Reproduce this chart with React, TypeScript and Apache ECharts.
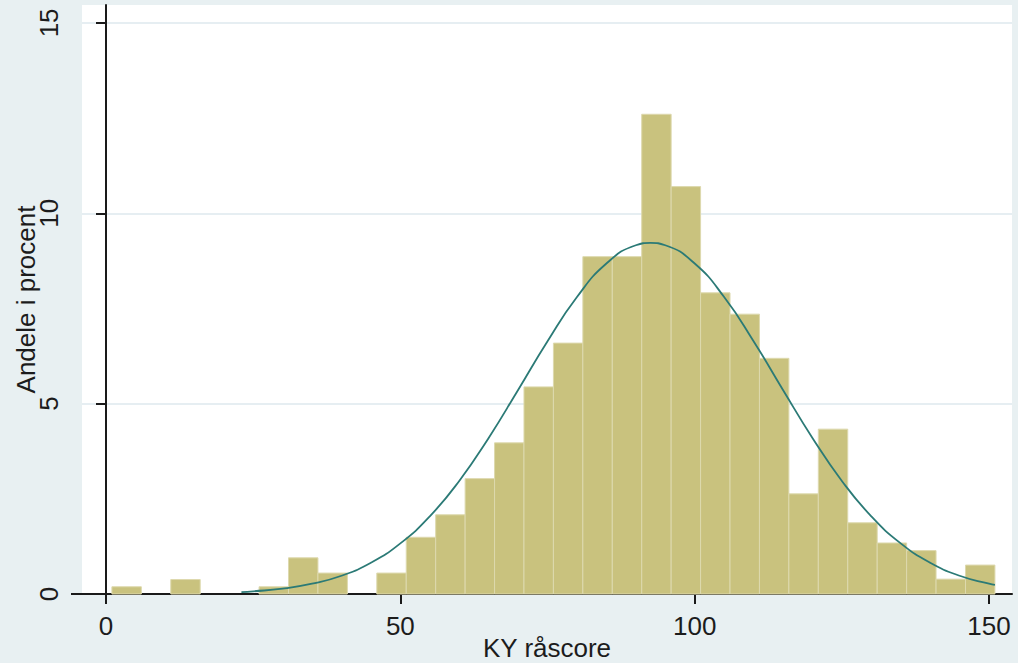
import React, { useEffect, useRef } from "react";
import * as echarts from "echarts";

// Histogram bins (lower edge of each 5-point bin) and their heights in percent
const binLeft = [1, 6, 11, 16, 21, 26, 31, 36, 41, 46, 51, 56, 61, 66, 71, 76, 81, 86, 91, 96, 101, 106, 111, 116, 121, 126, 131, 136, 141, 146];
const binWidth = 5;
const percent = [0.19, 0, 0.38, 0, 0, 0.19, 0.95, 0.55, 0, 0.55, 1.49, 2.08, 3.03, 3.97, 5.44, 6.59, 8.86, 8.86, 12.6, 10.7, 7.91, 7.35, 6.19, 2.63, 4.33, 1.87, 1.34, 1.14, 0.39, 0.76];

// Overlaid normal curve
const curveX = [23, 25, 30, 35, 40, 45, 50, 55, 60, 65, 70, 75, 80, 85, 90, 92.5, 95, 100, 105, 110, 115, 120, 125, 130, 135, 140, 145, 150, 151];
const curveY = [0.05, 0.07, 0.14, 0.27, 0.48, 0.82, 1.33, 2.04, 2.97, 4.1, 5.36, 6.64, 7.8, 8.68, 9.16, 9.22, 9.16, 8.68, 7.8, 6.64, 5.36, 4.1, 2.97, 2.04, 1.33, 0.82, 0.48, 0.27, 0.24];

const xTicks = [0, 50, 100, 150];
const yTicks = [0, 5, 10, 15];

const FONT = "'Liberation Sans', Arial, sans-serif";
const TXT = "#1c1c1c";

export default function App() {
  const ref = useRef<HTMLDivElement>(null);
  useEffect(() => {
    if (!ref.current) return;
    const chart = echarts.init(ref.current, null, { renderer: "svg" });
    const barData = binLeft
      .map((l, i) => [l, l + binWidth, percent[i]])
      .filter((d) => d[2] > 0);
    chart.setOption({
      animation: false,
      backgroundColor: "#E8F0F2",
      textStyle: { fontFamily: FONT },
      grid: {
        left: 82,
        right: 6,
        top: 5,
        bottom: 69,
        containLabel: false,
        outerBoundsMode: "none",
        show: true,
        backgroundColor: "#ffffff",
        borderWidth: 0,
      },
      xAxis: {
        type: "value",
        min: -4.08,
        max: 153.9,
        name: "KY råscore",
        nameLocation: "middle",
        nameGap: 41,
        nameMoveOverlap: false,
        nameTextStyle: { fontSize: 26, color: TXT, fontFamily: FONT },
        axisLine: { show: true, lineStyle: { color: "#1a1a1a", width: 2 } },
        axisTick: { show: true, length: 10, customValues: xTicks, lineStyle: { color: "#1a1a1a", width: 2 } },
        axisLabel: { customValues: xTicks, fontSize: 26, color: TXT, margin: 19, fontFamily: FONT },
        splitLine: { show: false },
      },
      yAxis: {
        type: "value",
        min: 0,
        max: 15.47,
        name: "Andele i procent",
        nameLocation: "middle",
        nameGap: 43,
        nameMoveOverlap: false,
        nameTextStyle: { fontSize: 26, color: TXT, fontFamily: FONT },
        axisLine: { show: true, lineStyle: { color: "#1a1a1a", width: 2 } },
        axisTick: { show: true, length: 10, customValues: yTicks, lineStyle: { color: "#1a1a1a", width: 2 } },
        axisLabel: { customValues: yTicks, fontSize: 26, color: TXT, margin: 20, rotate: 90, fontFamily: FONT },
        splitLine: { show: true, lineStyle: { color: "#E6EEF2", width: 2 } },
      },
      series: [
        {
          type: "custom",
          data: barData,
          encode: { x: [0, 1], y: 2 },
          z: 2,
          renderItem: (params: any, api: any) => {
            const x0 = api.value(0);
            const x1 = api.value(1);
            const h = api.value(2);
            const pTop = api.coord([x0, h]);
            const pBot = api.coord([x1, 0]);
            return {
              type: "rect",
              shape: {
                x: pTop[0],
                y: pTop[1],
                width: pBot[0] - pTop[0],
                height: pBot[1] - pTop[1],
              },
              style: { fill: "#C9C27E", stroke: "#DDD9AE", lineWidth: 1 },
            };
          },
        },
        {
          type: "line",
          data: curveX.map((x, i) => [x, curveY[i]]),
          smooth: true,
          symbol: "none",
          z: 5,
          lineStyle: { color: "#2B7A76", width: 1.8 },
        },
      ],
      graphic: [
        {
          type: "line",
          z: 100,
          shape: { x1: 71, y1: 594, x2: 83, y2: 594 },
          style: { stroke: "#1a1a1a", lineWidth: 2 },
        },
      ],
    });
    return () => chart.dispose();
  }, []);
  return (
    <div
      ref={ref}
      style={{ position: "fixed", left: 0, top: 0, width: 1018, height: 663 }}
    />
  );
}
